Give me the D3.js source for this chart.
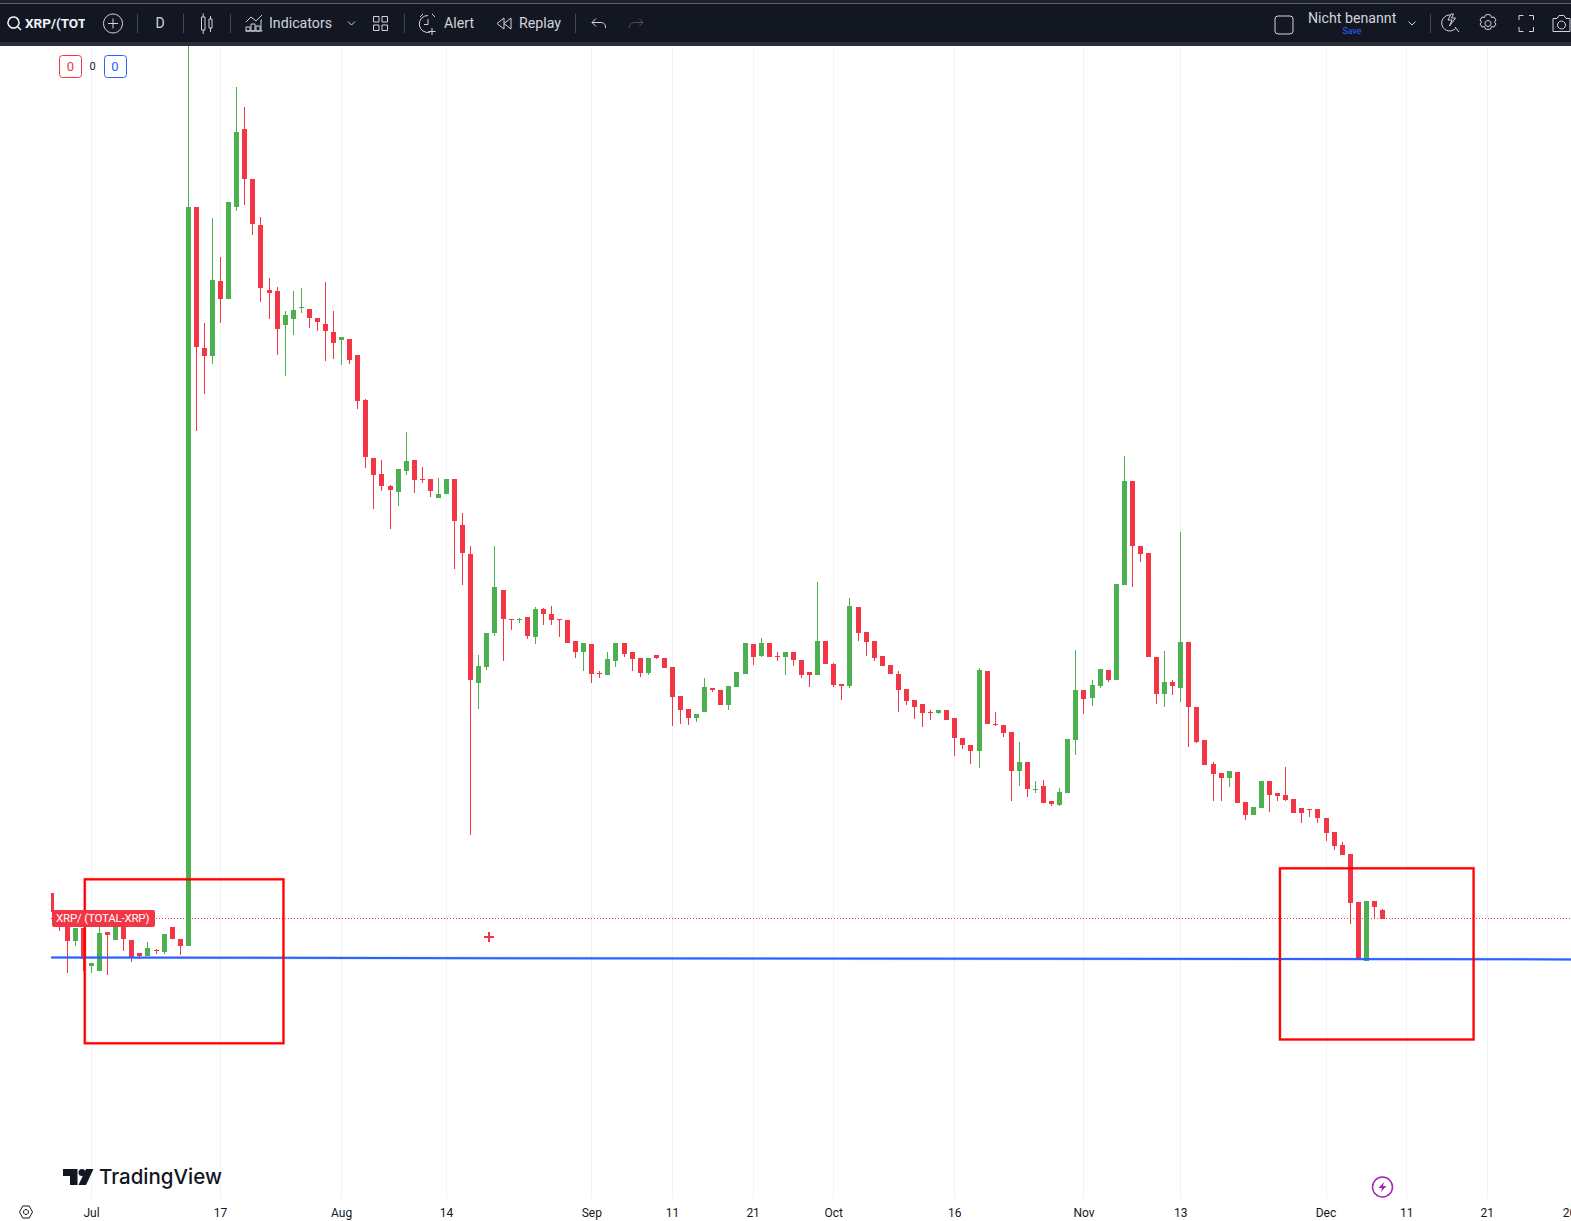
<!DOCTYPE html>
<html>
<head>
<meta charset="utf-8">
<title>XRP/(TOTAL-XRP)</title>
<script src="https://cdn.jsdelivr.net/npm/d3@7/dist/d3.min.js"></script>
<style>
    html, body { margin: 0; padding: 0; background: #fff; overflow: hidden; }
    svg { display: block; font-family: Roboto, "Noto Sans", sans-serif; }
</style>
</head>
<body>
<svg id="chart" width="1571" height="1221"></svg>
<script>
const firstDay = Date.UTC(2023, 5, 26);
const open = [
    307,290,279,259,272,234,229,268,260,274,
    260,247,244,250,248,273,261,254,993,852,
    844,919,901,993,1071,1021,975,910,909,875,
    881,892,891,882,876,868,860,861,845,800,
    742,726,714,708,729,740,721,721,702,706,
    721,675,646,517,533,567,610,581,580,583,
    563,591,586,581,580,559,548,556,527,525,
    539,557,548,542,527,545,542,533,504,491,
    482,488,512,510,495,513,526,556,544,557,
    544,543,548,540,528,525,559,536,516,514,
    593,568,559,544,535,526,511,500,496,488,
    487,490,482,462,455,449,529,476,475,468,
    429,438,410,414,399,395,407,460,510,502,
    514,530,520,615,719,654,647,543,506,518,
    512,558,493,460,436,427,422,428,398,385,
    392,419,407,405,401,392,391,391,382,368,
    355,346,298,239,299,290
];
const high = [
    307,290,279,272,272,237,274,268,275,274,
    260,247,258,251,266,273,261,1160,993,877,
    982,943,998,1113,1093,1021,983,922,913,889,
    909,912,891,882,918,889,863,861,845,801,
    742,740,715,731,768,740,733,721,722,721,
    721,687,654,545,567,654,610,581,582,583,
    593,592,594,581,580,559,557,556,529,548,
    557,557,548,542,542,545,542,533,504,491,
    486,522,512,510,514,528,557,556,562,557,
    548,548,548,540,528,618,559,537,516,602,
    593,568,559,544,535,529,511,500,496,490,
    490,490,482,462,455,532,529,488,475,468,
    458,438,419,420,399,412,461,550,510,520,
    531,530,616,744,719,654,647,543,549,520,
    668,558,493,460,438,427,429,428,398,393,
    419,419,407,433,401,392,391,391,382,368,
    358,346,298,299,299,291
];
const low = [
    288,269,227,254,229,227,229,225,260,249,
    238,241,244,246,246,261,245,254,769,806,
    836,877,901,989,995,965,898,881,845,824,
    865,887,872,869,839,841,835,836,791,732,
    691,709,671,694,725,707,717,703,702,706,
    631,615,365,491,530,564,539,570,577,561,
    556,575,575,563,557,542,529,517,522,525,
    533,543,529,523,525,541,532,474,476,475,
    478,488,508,495,490,513,526,535,543,543,
    539,525,534,522,513,525,536,513,500,512,
    559,544,539,534,526,488,495,481,473,480,
    486,480,444,451,436,432,476,474,463,399,
    414,403,407,397,394,394,407,445,486,494,
    512,518,520,615,613,638,543,496,493,505,
    498,453,457,435,399,399,413,397,380,385,
    392,388,399,399,387,377,383,377,359,350,
    345,276,240,239,281,281
];
const close = [
    288,275,259,272,241,237,267,265,275,261,
    242,244,252,249,266,261,254,993,853,844,
    920,901,998,1068,1021,976,912,907,871,885,
    890,893,882,878,869,857,863,840,799,743,
    725,714,710,731,739,720,720,709,706,721,
    679,647,520,534,567,613,581,580,581,564,
    591,586,580,580,557,548,557,526,526,541,
    557,546,541,527,542,542,532,503,490,482,
    486,513,510,495,514,528,557,543,557,543,
    543,548,540,525,525,559,536,515,514,594,
    567,558,542,534,526,510,499,493,487,487,
    490,480,462,455,449,530,476,475,467,429,
    438,411,411,397,396,408,461,510,501,515,
    531,520,616,719,654,646,543,506,518,514,
    558,493,458,435,426,422,429,397,385,393,
    419,405,404,400,387,387,390,382,367,354,
    345,297,240,299,293,281
];

const tickDates = [
    Date.UTC(2023, 6, 1), Date.UTC(2023, 6, 17), Date.UTC(2023, 7, 1), Date.UTC(2023, 7, 14),
    Date.UTC(2023, 8, 1), Date.UTC(2023, 8, 11), Date.UTC(2023, 8, 21), Date.UTC(2023, 9, 1),
    Date.UTC(2023, 9, 16), Date.UTC(2023, 10, 1), Date.UTC(2023, 10, 13), Date.UTC(2023, 11, 1),
    Date.UTC(2023, 11, 11), Date.UTC(2023, 11, 21), Date.UTC(2024, 0, 1)
];
const tickLabels = ['Jul', '17', 'Aug', '14', 'Sep', '11', '21', 'Oct', '16', 'Nov', '13', 'Dec', '11', '21', '2024'];

// drawings on the chart, dates and index values
const trendDates = [Date.UTC(2023, 5, 26), Date.UTC(2024, 0, 1)];
const trendValues = [242.4, 240.6];
const lastValue = 282;
const boxStart = [Date.UTC(2023, 5, 30, 4), Date.UTC(2023, 10, 25, 7)];
const boxEnd = [Date.UTC(2023, 6, 24, 19), Date.UTC(2023, 11, 19, 7)];
const boxTop = [320.7, 331.7];
const boxBottom = [156.7, 160.5];
const cursorDate = Date.UTC(2023, 7, 19, 5);
const cursorValue = 263;

const RED = '#f23645';
const GREEN = '#4caf50';
const DARK = '#131722';
const ICON = '#d1d4dc';

const svg = d3.select('#chart');
const chartLeft = 51, chartRight = 1571, chartTop = 46, chartBottom = 1199;

const xScale = d3.scaleUtc()
    .domain([Date.UTC(2023, 6, 1), Date.UTC(2023, 11, 1)])
    .range([91.5, 1326]);
const yScale = d3.scaleLinear().domain([0, 1200]).range([1200, 0]);

svg.append('defs').append('clipPath').attr('id', 'plot-clip')
    .append('rect')
    .attr('x', chartLeft).attr('y', chartTop)
    .attr('width', chartRight - chartLeft).attr('height', chartBottom - chartTop);
svg.select('defs').append('clipPath').attr('id', 'symbol-clip')
    .append('rect').attr('x', 20).attr('y', 8).attr('width', 65).attr('height', 30);

// Grid
svg.append('g').selectAll('line')
    .data(tickDates)
    .enter()
    .append('line')
    .attr('x1', d => Math.floor(xScale(d)) + 0.5)
    .attr('x2', d => Math.floor(xScale(d)) + 0.5)
    .attr('y1', chartTop)
    .attr('y2', chartBottom)
    .attr('stroke', '#f0f3fa')
    .attr('stroke-width', 1);

// Time axis
const xAxis = d3.axisBottom(xScale)
    .tickValues(tickDates)
    .tickSize(0)
    .tickPadding(0)
    .tickFormat((d, i) => tickLabels[i]);
const axisGroup = svg.append('g')
    .attr('transform', 'translate(-0.5,1208)')
    .call(xAxis);
axisGroup.select('.domain').remove();
axisGroup.selectAll('text')
    .attr('fill', DARK)
    .attr('font-size', 12)
    .attr('font-family', 'Roboto, sans-serif');

const plot = svg.append('g').attr('clip-path', 'url(#plot-clip)');

// Price line
plot.append('line')
    .attr('x1', chartLeft).attr('x2', chartRight)
    .attr('y1', yScale(lastValue) + 0.5).attr('y2', yScale(lastValue) + 0.5)
    .attr('stroke', RED)
    .attr('stroke-width', 1)
    .attr('stroke-dasharray', '1 2');

// Candles
const candles = open.map((o, i) => ({
    date: firstDay + i * 864e5,
    open: o, high: high[i], low: low[i], close: close[i]
}));
const candleColor = d => d.close >= d.open ? GREEN : RED;

plot.append('g').selectAll('.wick')
    .data(candles)
    .enter()
    .append('rect')
    .attr('class', 'wick')
    .attr('x', d => Math.floor(xScale(d.date)))
    .attr('y', d => yScale(d.high))
    .attr('width', 1)
    .attr('height', d => yScale(d.low) - yScale(d.high))
    .attr('fill', candleColor);

plot.append('g').selectAll('.body')
    .data(candles)
    .enter()
    .append('rect')
    .attr('class', 'body')
    .attr('x', d => Math.floor(xScale(d.date)) - 2)
    .attr('y', d => yScale(Math.max(d.open, d.close)))
    .attr('width', 5)
    .attr('height', d => Math.abs(yScale(d.open) - yScale(d.close)))
    .attr('fill', candleColor);

// Trend line
const trendLine = d3.line()
    .x(d => xScale(d[0]))
    .y(d => yScale(d[1]));
const trendPoints = d3.zip(trendDates, trendValues);
plot.append('path')
    .attr('d', trendLine(trendPoints))
    .attr('fill', 'none')
    .attr('stroke', '#2962ff')
    .attr('stroke-opacity', 0.25)
    .attr('stroke-width', 3);
plot.append('path')
    .attr('d', trendLine(trendPoints))
    .attr('fill', 'none')
    .attr('stroke', '#2962ff')
    .attr('stroke-width', 2);

// Red rectangles, light stroke under the solid one
[[3, 0.35], [2, 1]].forEach(([width, opacity]) => {
    plot.append('g').selectAll('rect')
        .data(boxStart)
        .enter()
        .append('rect')
        .attr('x', d => xScale(d))
        .attr('y', (d, i) => yScale(boxTop[i]))
        .attr('width', (d, i) => xScale(boxEnd[i]) - xScale(d))
        .attr('height', (d, i) => yScale(boxBottom[i]) - yScale(boxTop[i]))
        .attr('fill', 'none')
        .attr('stroke', '#ff0000')
        .attr('stroke-opacity', opacity)
        .attr('stroke-width', width);
});

// Cursor
const cx = Math.round(xScale(cursorDate));
const cy = Math.round(yScale(cursorValue));
plot.append('path')
    .attr('d', `M${cx - 5},${cy}H${cx + 5}M${cx},${cy - 5}V${cy + 5}`)
    .attr('stroke', RED)
    .attr('stroke-width', 2)
    .attr('fill', 'none');

// Price label
const label = svg.append('g');
label.append('rect')
    .attr('x', 52).attr('y', yScale(lastValue) - 8)
    .attr('width', 103).attr('height', 17)
    .attr('rx', 2)
    .attr('fill', RED);
label.append('text')
    .attr('x', 56).attr('y', yScale(lastValue))
    .attr('dy', '0.36em')
    .attr('fill', '#fff')
    .attr('font-size', 11.5)
    .attr('letter-spacing', -0.2)
    .text('XRP/ (TOTAL-XRP)');

// Header
const header = svg.append('g');
header.append('rect').attr('width', 1571).attr('height', 46).attr('fill', '#2a2e39');
header.append('rect').attr('y', 0).attr('width', 1571).attr('height', 3).attr('fill', '#1e222d');
header.append('rect').attr('y', 3).attr('width', 1571).attr('height', 1).attr('fill', '#5d606b');
header.append('rect').attr('y', 4).attr('width', 1571).attr('height', 38).attr('fill', DARK);

const headerText = (x, y, text, size, fill, weight, anchor) => header.append('text')
    .attr('x', x).attr('y', y)
    .attr('dy', '0.36em')
    .attr('fill', fill)
    .attr('font-size', size)
    .attr('font-weight', weight || 400)
    .attr('text-anchor', anchor || 'start')
    .text(text);

headerText(25, 23, 'XRP/(TOTAL-XRP)', 13.5, '#f0f3fa', 700).attr('clip-path', 'url(#symbol-clip)');
headerText(160, 23, 'D', 14, ICON, 400, 'middle');
headerText(269, 23, 'Indicators', 14.2, ICON);
headerText(444, 23, 'Alert', 14.2, ICON);
headerText(519, 23, 'Replay', 14.2, ICON);
headerText(1308, 18, 'Nicht benannt', 14.2, ICON);
headerText(1352, 30.5, 'Save', 9, '#2962ff', 400, 'middle');

[137, 183, 230, 404, 575, 1430].forEach(x => {
    header.append('line')
        .attr('x1', x + 0.5).attr('x2', x + 0.5)
        .attr('y1', 14).attr('y2', 33)
        .attr('stroke', '#434651');
});

const icon = (d, color, width) => header.append('path')
    .attr('d', d)
    .attr('fill', 'none')
    .attr('stroke', color || ICON)
    .attr('stroke-width', width || 1);

icon('M13.5,17a5.5,5.5 0 1,0 0.01,0M17.5,26.5L21,30', '#f0f3fa', 1.5);
icon('M113,14a9.5,9.5 0 1,0 0.01,0M113,18.5V28.5M108,23.5H118');
icon('M201.5,17h3.5v13h-3.5zM203.2,13.5v3.5M203.2,30v4M209,19h3v9h-3zM210.5,16v3M210.5,28v4');
icon('M246,22l5,-5l5,4l6,-6M246,31v-4h4v4zM251,31v-7h4v7zM256,31v-5h4v5zM261,31v-11h1M245.5,31h17');
icon('M348,21.5l3.5,3.5l3.5,-3.5');
icon('M373.5,16.5h5.5v5.5h-5.5zM382,16.5h5.5v5.5h-5.5zM373.5,25h5.5v5.5h-5.5zM382,25h5.5v5.5h-5.5z');
icon('M428,15.5a8.5,8.5 0 1,0 2,16.7M428,19v5.5h-4M432,28v7M428.5,31.5h7M420,17l3,-3M435,17l-3,-3');
icon('M504,18l-7,5.5l7,5.5zM511,18l-7,5.5l7,5.5z');
icon('M592,22.5h9.5a5,5 0 0,1 4,5.5M592,22.5l4,-4M592,22.5l4,4');
icon('M643,22.5h-9.5a5,5 0 0,0 -4,5.5M643,22.5l-4,-4M643,22.5l-4,4', '#50535e');
header.append('rect')
    .attr('x', 1275).attr('y', 16).attr('width', 18).attr('height', 18).attr('rx', 3)
    .attr('fill', 'none').attr('stroke', ICON);
icon('M1408.5,21.5l3.5,3.5l3.5,-3.5');
icon('M1450,15a8,8 0 1,0 5.5,13.5M1455,27l4,5M1451,14l-3,6h4l-2.5,6l6,-8h-4l2,-4z');
icon('M1488,14.5l2.5,0.5l1,2.5l2.5,-0.5l2,3l-1.5,2l1.5,2l-2,3l-2.5,-0.5l-1,2.5l-2.5,0.5l-2.5,-0.5l-1,-2.5l-2.5,0.5l-2,-3l1.5,-2l-1.5,-2l2,-3l2.5,0.5l1,-2.5zM1488,20.5a3,3 0 1,0 0.01,0');
icon('M1519,20v-4.5h4.5M1529,15.5h4.5v4.5M1533.5,27v4.5h-4.5M1523.5,31.5H1519V27');
icon('M1553,18.5h4l2,-3h5l2,3h4v13h-17zM1561.5,21a4,4 0 1,0 0.01,0');

// Order counters
const counters = svg.append('g');
counters.append('rect').attr('x', 59.5).attr('y', 55.5).attr('width', 22).attr('height', 22).attr('rx', 3)
    .attr('fill', '#fff').attr('stroke', RED);
counters.append('rect').attr('x', 104.5).attr('y', 55.5).attr('width', 22).attr('height', 22).attr('rx', 3)
    .attr('fill', '#fff').attr('stroke', '#2962ff');
[[70.5, RED], [92.5, DARK], [115, '#2962ff']].forEach(([x, color], i) => {
    counters.append('text')
        .attr('x', x).attr('y', 66.5)
        .attr('dy', '0.36em')
        .attr('text-anchor', 'middle')
        .attr('font-size', i === 1 ? 11 : 13)
        .attr('fill', color)
        .text('0');
});

// Logo
const logo = svg.append('g').attr('fill', DARK);
logo.append('path').attr('d', 'M63,1169H77.5V1185H70V1176H63Z');
logo.append('circle').attr('cx', 82).attr('cy', 1172.5).attr('r', 3.5);
logo.append('path').attr('d', 'M86,1169H93.5L86,1185H78.5Z');
logo.append('text')
    .attr('x', 99).attr('y', 1184)
    .attr('font-family', 'Inter, Roboto, sans-serif')
    .attr('font-size', 20.5)
    .attr('font-weight', 500)
    .text('TradingView');

// Time axis settings button
svg.append('path')
    .attr('d', 'M19.5,1212l3.3,-6h6.4l3.3,6l-3.3,6h-6.4zM26,1209.5a2.5,2.5 0 1,0 0.01,0')
    .attr('fill', 'none')
    .attr('stroke', DARK)
    .attr('stroke-width', 1);

// Lightning badge
const bolt = svg.append('g').attr('transform', 'translate(1382.5,1187)');
bolt.append('circle').attr('r', 10)
    .attr('fill', '#fff').attr('stroke', '#9c27b0').attr('stroke-width', 1.5);
bolt.append('path').attr('d', 'M1.5,-5L-4,1H-0.5L-1.5,5L4,-1H0.5Z').attr('fill', '#9c27b0');
</script>
</body>
</html>
